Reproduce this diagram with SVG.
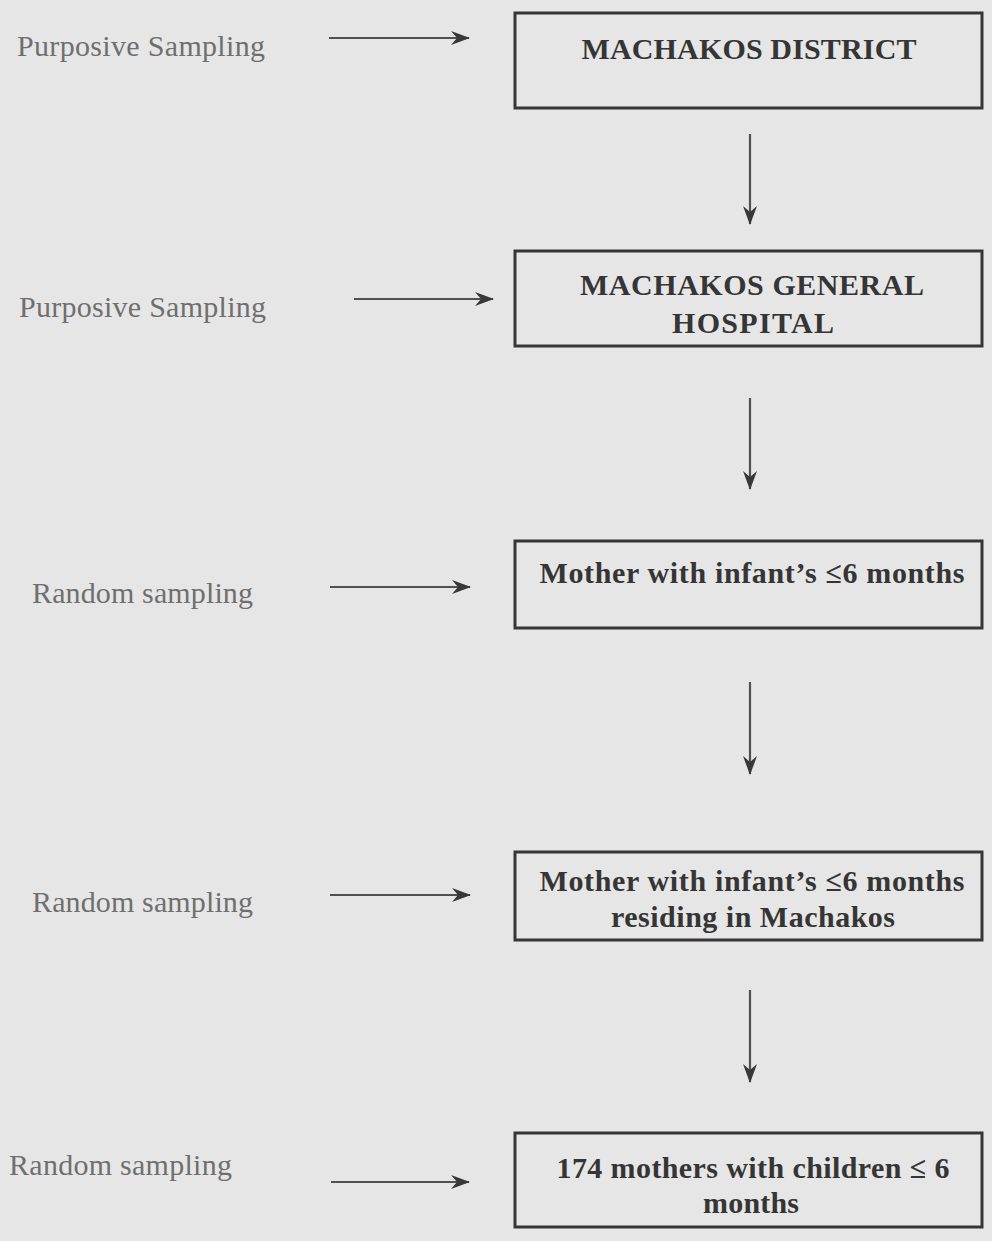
<svg xmlns="http://www.w3.org/2000/svg" width="992" height="1241" viewBox="0 0 992 1241">
<style>
.box{fill:none;stroke:#363636;stroke-width:3}
.bt{font-family:"Liberation Serif","Times New Roman",serif;font-weight:bold;font-size:30px;fill:#353535;text-anchor:middle}
.lb{font-family:"Liberation Serif","Times New Roman",serif;font-size:30px;fill:#6f6f6f}
.con{stroke:#505050;stroke-width:2.2;fill:none;marker-end:url(#ah)}
</style>
<defs>
<marker id="ah" markerUnits="userSpaceOnUse" markerWidth="20" markerHeight="16" refX="18" refY="8" orient="auto">
<path d="M0,1 L19,8 L0,15 L6,8 z" fill="#383838"/>
</marker>
</defs>
<rect width="992" height="1241" fill="#e6e6e6"/>
<g id="connectors">
<line class="con" x1="329" y1="38" x2="469" y2="38"/>
<line class="con" x1="354" y1="299" x2="493" y2="299"/>
<line class="con" x1="330" y1="587" x2="470" y2="587"/>
<line class="con" x1="330" y1="895" x2="470" y2="895"/>
<line class="con" x1="331" y1="1182" x2="469" y2="1182"/>
<line class="con" x1="750" y1="134" x2="750" y2="224"/>
<line class="con" x1="750" y1="398" x2="750" y2="489"/>
<line class="con" x1="750" y1="682" x2="750" y2="774"/>
<line class="con" x1="750" y1="990" x2="750" y2="1082"/>
</g>
<g id="label1"><text class="lb" x="17" y="56" textLength="248">Purposive Sampling</text></g>
<g id="label2"><text class="lb" x="19" y="317" textLength="247">Purposive Sampling</text></g>
<g id="label3"><text class="lb" x="32" y="603" textLength="221">Random sampling</text></g>
<g id="label4"><text class="lb" x="32" y="912" textLength="221">Random sampling</text></g>
<g id="label5"><text class="lb" x="9" y="1175" textLength="223">Random sampling</text></g>
<g id="node1">
<rect class="box" x="515" y="13" width="467" height="95"/>
<text class="bt" x="749" y="59" textLength="335">MACHAKOS DISTRICT</text>
</g>
<g id="node2">
<rect class="box" x="515" y="251" width="467" height="95"/>
<text class="bt" x="752" y="295" textLength="344">MACHAKOS GENERAL</text>
<text class="bt" x="753" y="333" textLength="162">HOSPITAL</text>
</g>
<g id="node3">
<rect class="box" x="515" y="541" width="467" height="87"/>
<text class="bt" x="752" y="583" textLength="425">Mother with infant’s ≤6 months</text>
</g>
<g id="node4">
<rect class="box" x="515" y="852" width="467" height="88"/>
<text class="bt" x="752" y="891" textLength="425">Mother with infant’s ≤6 months</text>
<text class="bt" x="753" y="927" textLength="284">residing in Machakos</text>
</g>
<g id="node5">
<rect class="box" x="515" y="1133" width="467" height="94"/>
<text class="bt" x="753" y="1178" textLength="393">174 mothers with children ≤ 6</text>
<text class="bt" x="751" y="1213" textLength="96">months</text>
</g>
</svg>
